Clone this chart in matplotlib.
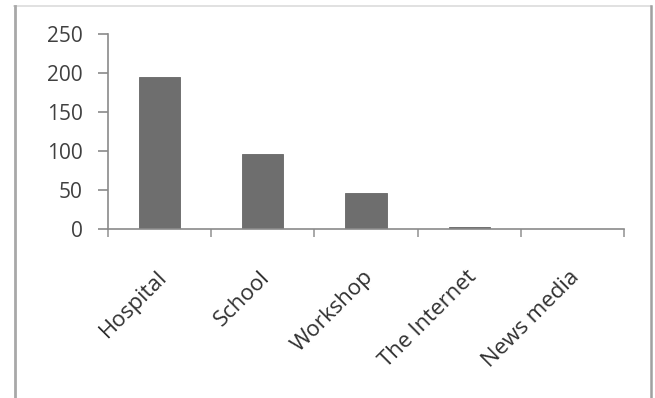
import matplotlib.pyplot as plt
from matplotlib.lines import Line2D
import numpy as np

categories = ["Hospital", "School", "Workshop", "The Internet", "News media"]
values = [195, 96, 46, 2, 0]
y_ticks = [0, 50, 100, 150, 200, 250]

W, H = 655, 398
fig = plt.figure(figsize=(W / 100, H / 100), dpi=100)
plt.rcParams['font.family'] = ['Open Sans', 'DejaVu Sans']


def fig_line(x0, y0, x1, y1, color, lw):
    fig.lines.append(Line2D([x0 / W, x1 / W], [1 - y0 / H, 1 - y1 / H],
                            transform=fig.transFigure, color=color, linewidth=lw))


# outer chart frame
fig_line(14, 6, 651, 6, '#dcdcdc', 1.2)
fig_line(14.5, 6, 14.5, 398, '#a8a8a8', 2.0)
fig_line(651, 6, 651, 398, '#a0a0a0', 1.8)

ax = fig.add_axes([108 / W, 1 - 229 / H, (624 - 108) / W, (229 - 34) / H])
x = np.arange(len(categories))
ax.bar(x, values, width=0.4, color='#6e6e6e', edgecolor='#666666', linewidth=0.6)

ax.set_xlim(-0.5, len(categories) - 0.5)
ax.set_ylim(0, 250)
ax.set_yticks(y_ticks)
ax.set_yticklabels([str(v) for v in y_ticks], fontsize=15, color='#404040')

for s in ['top', 'right']:
    ax.spines[s].set_visible(False)
for s in ['left', 'bottom']:
    ax.spines[s].set_color('#8a8a8a')
    ax.spines[s].set_linewidth(1.2)

ax.tick_params(axis='y', length=7, width=1.2, color='#8a8a8a', pad=11)

# category boundary ticks on the x axis
ax.set_xticks(np.arange(-0.5, len(categories)))
ax.set_xticklabels([])
ax.tick_params(axis='x', length=6, width=1.2, color='#9a9a9a')

for xi, lab in zip(x, categories):
    ax.annotate(lab, xy=(xi, 0), xycoords='data', xytext=(-2.5, -27),
                textcoords='offset points', rotation=45, ha='right', va='top',
                rotation_mode='anchor', fontsize=16, color='#303030')

fig.savefig('out.png', dpi=100)
